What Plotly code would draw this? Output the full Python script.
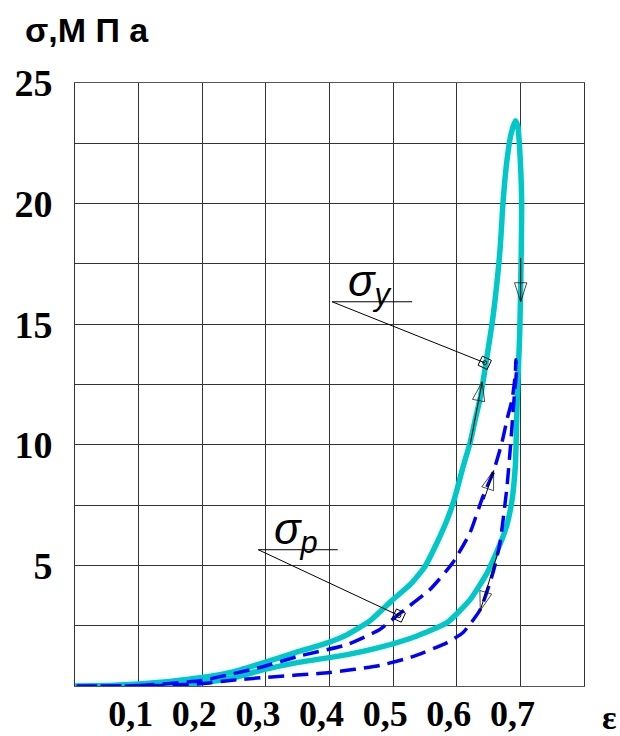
import plotly.graph_objects as go

# ---- data (strain ε, stress σ in MPa) ----
cyan_load_eps = [0, 0.055, 0.10, 0.149, 0.20, 0.244, 0.297, 0.347, 0.398, 0.428, 0.464, 0.498, 0.527,
                 0.549, 0.569, 0.585, 0.596, 0.610, 0.621, 0.630, 0.637, 0.646, 0.657, 0.668, 0.673,
                 0.679, 0.685, 0.692]
cyan_load_sig = [0, 0.02, 0.08, 0.19, 0.35, 0.56, 0.97, 1.39, 1.80, 2.13, 2.71, 3.54, 4.21,
                 4.91, 5.94, 6.90, 7.73, 9.09, 10.09, 11.16, 11.95, 13.40, 15.31, 18.08, 20.15,
                 21.81, 22.85, 23.43]
cyan_unload_eps = [0.696, 0.699, 0.702, 0.701, 0.699, 0.695, 0.693, 0.692, 0.687, 0.679, 0.671, 0.648,
                   0.621, 0.585, 0.531, 0.479, 0.428, 0.349, 0.297, 0.244, 0.20, 0.149, 0.10, 0.055, 0]
cyan_unload_sig = [23.22, 22.22, 20.15, 17.38, 14.64, 11.87, 9.80, 9.09, 7.73, 6.69, 6.07, 4.70,
                   3.58, 2.63, 2.01, 1.60, 1.30, 0.97, 0.68, 0.31, 0.145, 0.04, 0.0, -0.02, 0]

blue_load_eps = [0, 0.10, 0.20, 0.244, 0.297, 0.349, 0.428, 0.479, 0.506, 0.558, 0.594, 0.621, 0.641,
                 0.657, 0.671, 0.680, 0.687, 0.692, 0.693]
blue_load_sig = [0, 0.02, 0.23, 0.48, 0.81, 1.22, 1.72, 2.34, 2.92, 4.00, 5.12, 6.36, 7.85,
                 8.84, 10.09, 11.16, 11.87, 12.90, 13.53]
blue_unload_eps = [0.694, 0.690, 0.684, 0.679, 0.668, 0.657, 0.637, 0.610, 0.585, 0.531, 0.479, 0.401,
                   0.295, 0.244, 0.20, 0.10, 0]
blue_unload_sig = [13.11, 11.87, 9.80, 8.27, 5.94, 4.70, 3.17, 2.22, 1.80, 1.22, 0.85, 0.56,
                   0.35, 0.23, 0.10, 0.0, 0]

x_tick_vals = [0.1, 0.2, 0.3, 0.4, 0.5, 0.6, 0.7]
x_tick_text = ["0,1", "0,2", "0,3", "0,4", "0,5", "0,6", "0,7"]
y_tick_vals = [5, 10, 15, 20, 25]
y_tick_text = ["5", "10", "15", "20", "25"]

# direction arrows: (tail ε, tail σ, tip ε, tip σ)
arrows = [
    (0.621, 10.0, 0.640, 12.61),
    (0.7005, 17.75, 0.7005, 15.93),
    (0.643, 7.73, 0.658, 8.93),
    (0.665, 5.57, 0.637, 3.13),
]
# labelled points: (label, point ε, point σ, underline start ε, underline end ε, underline σ)
labels = [
    ("y", 0.644, 13.40, 0.404, 0.530, 15.93),
    ("p", 0.509, 2.92, 0.288, 0.413, 5.65),
]

CYAN = "rgb(0,200,200)"
BLUE = "rgb(0,0,255)"

fig = go.Figure()
fig.add_trace(go.Scatter(x=cyan_load_eps + cyan_unload_eps, y=cyan_load_sig + cyan_unload_sig,
                         mode="lines", line=dict(color=CYAN, width=5.5, shape="spline", smoothing=0.5),
                         hoverinfo="skip"))
fig.add_trace(go.Scatter(x=blue_load_eps + blue_unload_eps, y=blue_load_sig + blue_unload_sig,
                         mode="lines", line=dict(color=BLUE, width=3.5, dash="16px,8px",
                                                 shape="spline", smoothing=0.5),
                         hoverinfo="skip"))

for (tx, ty, hx, hy) in arrows:
    fig.add_trace(go.Scatter(x=[tx, hx], y=[ty, hy], mode="lines+markers",
                             line=dict(color="black", width=1),
                             marker=dict(symbol=["circle", "arrow-open"], size=[0, 20],
                                         angleref="previous", color="black",
                                         line=dict(color="black", width=1)),
                             hoverinfo="skip"))

for (sub, px, py, ux0, ux1, uy) in labels:
    fig.add_shape(type="line", x0=ux0, x1=ux1, y0=uy, y1=uy, line=dict(color="black", width=1))
    fig.add_shape(type="line", x0=ux0, x1=px, y0=uy, y1=py, line=dict(color="black", width=1))
    fig.add_trace(go.Scatter(x=[px], y=[py], mode="markers",
                             marker=dict(symbol="square-open", size=10, angle=25, color="black",
                                         line=dict(color="black", width=1)),
                             hoverinfo="skip"))
    fig.add_trace(go.Scatter(x=[px], y=[py], mode="markers",
                             marker=dict(symbol="circle-open", size=4, color="black",
                                         line=dict(color="black", width=1)),
                             hoverinfo="skip"))
    fig.add_annotation(x=ux0 + 0.022, y=uy, xref="x", yref="y", xanchor="left", yanchor="bottom",
                       text="<i>σ<sub>" + sub + "</sub></i>", showarrow=False, yshift=-12,
                       font=dict(family="Liberation Sans", size=44, color="black"))

fig.add_annotation(xref="paper", yref="paper", x=-0.103, y=1.088, xanchor="left", yanchor="middle",
                   text="<b>σ,М П а</b>", showarrow=False,
                   font=dict(family="Liberation Sans", size=34, color="black"))
fig.add_annotation(xref="paper", yref="paper", x=1.051, y=-0.052, xanchor="center", yanchor="middle",
                   text="<b>ε</b>", showarrow=False,
                   font=dict(family="Liberation Serif", size=34, color="black"))

GRID = "#333333"
fig.update_layout(
    width=620, height=736,
    margin=dict(l=75, r=36, t=83, b=50),
    paper_bgcolor="white", plot_bgcolor="white",
    showlegend=False,
    xaxis=dict(range=[0, 0.8], tickvals=x_tick_vals, ticktext=x_tick_text, automargin=False,
               showgrid=True, gridcolor=GRID, gridwidth=1, zeroline=False,
               showline=True, linecolor="#555555", linewidth=1, mirror=True,
               minor=dict(dtick=0.1, tick0=0, showgrid=True, gridcolor=GRID, gridwidth=1),
               ticks="", ticklabelshift=-8, ticklabelstandoff=-4,
               tickfont=dict(family="Liberation Serif", size=36, color="black", weight="bold")),
    yaxis=dict(range=[0, 25], tickvals=y_tick_vals, ticktext=y_tick_text, automargin=False,
               showgrid=True, gridcolor=GRID, gridwidth=1, zeroline=False,
               showline=True, linecolor="#333333", linewidth=1, mirror=True,
               minor=dict(dtick=2.5, tick0=0, showgrid=True, gridcolor=GRID, gridwidth=1),
               ticks="", ticklabelstandoff=14,
               tickfont=dict(family="Liberation Serif", size=38, color="black", weight="bold")),
)

fig.write_html("out.html", config={"displayModeBar": False},
               post_script="document.body.style.margin='0';")
